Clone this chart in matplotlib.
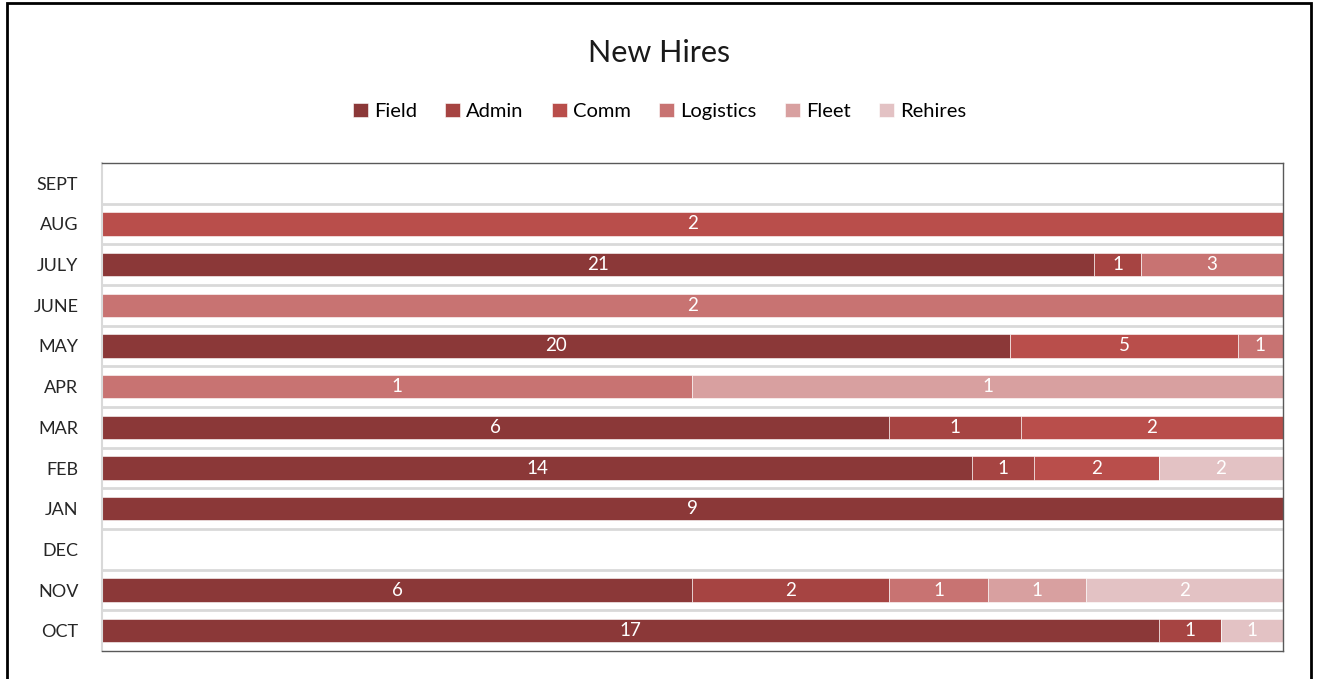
#!/usr/bin/env python3
"""
New Hires by month - 100% stacked horizontal bars.
"""

import numpy as np
import matplotlib
matplotlib.use('Agg')
import matplotlib.pyplot as plt
from matplotlib.patches import Rectangle

plt.rcParams['font.family'] = ['Lato', 'DejaVu Sans']

# Months, bottom to top
months = ['OCT', 'NOV', 'DEC', 'JAN', 'FEB', 'MAR', 'APR', 'MAY', 'JUNE', 'JULY', 'AUG', 'SEPT']

categories = ['Field', 'Admin', 'Comm', 'Logistics', 'Fleet', 'Rehires']
field = [17, 6, 0, 9, 14, 6, 0, 20, 0, 21, 0, 0]
admin = [1, 2, 0, 0, 1, 1, 0, 0, 0, 1, 0, 0]
comm = [0, 0, 0, 0, 2, 2, 0, 5, 0, 0, 2, 0]
logistics = [0, 1, 0, 0, 0, 0, 1, 1, 2, 3, 0, 0]
fleet = [0, 1, 0, 0, 0, 0, 1, 0, 0, 0, 0, 0]
rehires = [1, 2, 0, 0, 2, 0, 0, 0, 0, 0, 0, 0]

colors = ['#8B3838', '#A64442', '#B94E4B', '#C87372', '#D8A0A0', '#E3C2C4']


def main():
    series = np.array([field, admin, comm, logistics, fleet, rehires], dtype=float)
    totals = series.sum(axis=0)
    safe_totals = np.where(totals == 0, 1, totals)
    shares = series / safe_totals

    fig = plt.figure(figsize=(13.19, 6.79), dpi=100)
    ax = fig.add_axes([0.0773, 0.0412, 0.8954, 0.7188])

    y = np.arange(len(months))

    # category boundary gridlines
    for k in range(1, len(months)):
        ax.axhline(k - 0.5, color='#D9D9D9', lw=2, zorder=0)

    left = np.zeros(len(months))
    for i, name in enumerate(categories):
        ax.barh(y, shares[i], left=left, height=0.57, color=colors[i],
                edgecolor='white', linewidth=0.4, label=name, zorder=2)
        for j in range(len(months)):
            if series[i, j] > 0:
                ax.text(left[j] + shares[i, j] / 2, y[j], f'{int(series[i, j])}',
                        ha='center', va='center', color='white', fontsize=13.5, zorder=3)
        left += shares[i]

    ax.set_xlim(0, 1)
    ax.set_ylim(-0.5, len(months) - 0.5)
    ax.set_yticks(y)
    ax.set_yticklabels(months, fontsize=13, color='#262626')
    ax.tick_params(axis='y', length=0, pad=17)
    ax.set_xticks([])

    for side in ['top', 'right', 'bottom']:
        ax.spines[side].set_color('#595959')
        ax.spines[side].set_linewidth(1.0)
    ax.spines['left'].set_color('#D9D9D9')
    ax.spines['left'].set_linewidth(1.5)

    fig.text(0.5, 0.922, 'New Hires', ha='center', va='center',
             fontsize=22, color='#1A1A1A')

    handles, labels = ax.get_legend_handles_labels()
    fig.legend(handles, labels, loc='center', bbox_to_anchor=(0.5, 0.836),
               ncol=6, frameon=False, fontsize=14.5, handlelength=0.75,
               handleheight=0.75, handletextpad=0.3, columnspacing=1.4)

    # outer chart frame
    fig.patches.append(Rectangle((7 / 1319, -0.05), (1311 - 7) / 1319, 1.05 - 3 / 679,
                                 transform=fig.transFigure, fill=False,
                                 edgecolor='black', linewidth=2))

    fig.savefig('out.png', dpi=100)


if __name__ == '__main__':
    main()
